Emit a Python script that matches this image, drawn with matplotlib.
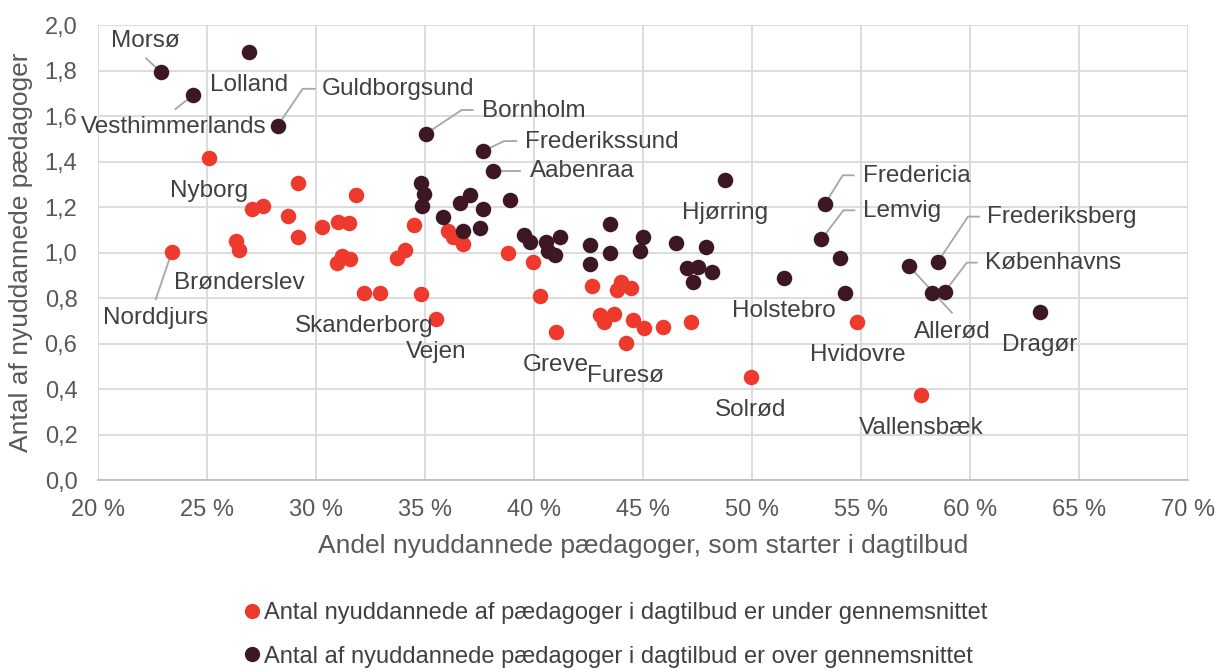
import numpy as np
import matplotlib.pyplot as plt
from matplotlib.lines import Line2D
from matplotlib.ticker import FuncFormatter, MultipleLocator

plt.rcParams['font.family'] = ['Liberation Sans', 'DejaVu Sans']

# Under gennemsnittet (rød)
under_x = [25.06, 29.15, 31.81, 27.04, 27.54, 28.72, 29.17, 30.28, 31.01, 31.51,
           34.50, 36.06, 36.28, 36.72, 23.37, 26.30, 26.47, 30.94, 31.19, 31.55,
           32.20, 32.92, 33.69, 34.07, 34.80, 35.49, 38.81, 39.95, 40.26, 40.98,
           42.66, 43.98, 44.44, 43.81, 43.01, 43.20, 43.67, 44.54, 45.05, 44.19,
           45.92, 47.19, 49.94, 54.83, 57.74]
under_y = [1.414, 1.307, 1.253, 1.191, 1.206, 1.162, 1.069, 1.113, 1.135, 1.128,
           1.121, 1.096, 1.069, 1.037, 1.001, 1.051, 1.011, 0.952, 0.986, 0.971,
           0.823, 0.823, 0.974, 1.011, 0.816, 0.708, 0.996, 0.960, 0.809, 0.652,
           0.853, 0.872, 0.845, 0.835, 0.725, 0.696, 0.728, 0.703, 0.667, 0.601,
           0.674, 0.696, 0.454, 0.696, 0.372]

# Over gennemsnittet (mørk)
over_x = [26.91, 22.88, 24.36, 28.23, 35.02, 37.66, 38.12, 34.80, 34.96, 34.83,
          35.83, 36.59, 37.05, 37.63, 36.74, 37.51, 38.89, 39.54, 39.80, 40.52,
          40.64, 40.95, 41.18, 42.56, 42.56, 43.47, 43.47, 45.00, 44.85, 46.50,
          47.88, 47.02, 47.50, 48.14, 47.29, 48.75, 51.47, 53.33, 53.18, 54.02,
          54.25, 57.19, 58.53, 58.23, 58.84, 63.20]
over_y = [1.883, 1.792, 1.692, 1.557, 1.521, 1.446, 1.358, 1.307, 1.256, 1.204,
          1.157, 1.219, 1.253, 1.191, 1.096, 1.106, 1.231, 1.077, 1.048, 1.048,
          1.008, 0.989, 1.067, 1.033, 0.948, 1.124, 1.000, 1.069, 1.007, 1.040,
          1.026, 0.933, 0.938, 0.916, 0.872, 1.319, 0.887, 1.212, 1.058, 0.977,
          0.823, 0.942, 0.960, 0.820, 0.828, 0.740]

# labels: (navn, serie, index)
labels = [
    ('Nyborg', 0, 0), ('Norddjurs', 0, 14), ('Brønderslev', 0, 16),
    ('Skanderborg', 0, 20), ('Vejen', 0, 25), ('Greve', 0, 29),
    ('Furesø', 0, 39), ('Solrød', 0, 42), ('Hvidovre', 0, 43),
    ('Vallensbæk', 0, 44),
    ('Lolland', 1, 0), ('Morsø', 1, 1), ('Vesthimmerlands', 1, 2),
    ('Guldborgsund', 1, 3), ('Bornholm', 1, 4), ('Frederikssund', 1, 5),
    ('Aabenraa', 1, 6), ('Hjørring', 1, 35), ('Holstebro', 1, 36),
    ('Fredericia', 1, 37), ('Lemvig', 1, 38), ('Allerød', 1, 41),
    ('Frederiksberg', 1, 42), ('Københavns', 1, 44), ('Dragør', 1, 45),
]

# label placement in pixels relative to point: (dx, dy, ha, leader)
place = {
    'Morsø': (-16, 31, 'center', [(-15, 14)]),
    'Vesthimmerlands': (-20, -32, 'center', [(-18, -14)]),
    'Guldborgsund': (44, 37, 'left', [(25, 37), (37, 37)]),
    'Bornholm': (56, 23, 'left', [(36, 24), (47, 24)]),
    'Frederikssund': (42, 9, 'left', [(21, 10), (33, 10)]),
    'Aabenraa': (37, 0, 'left', [(27, 0)]),
    'Fredericia': (38, 28, 'left', [(18, 29), (29, 29)]),
    'Lemvig': (42, 28, 'left', [(22, 29), (33, 29)]),
    'Frederiksberg': (49, 45, 'left', [(30, 45), (41, 45)]),
    'Københavns': (40, 29, 'left', [(22, 29), (32, 29)]),
    'Allerød': (43, -66, 'center', [(43, -47)]),
    'Norddjurs': (-16, -66, 'center', [(-16, -47)]),
}

red = '#ee3a2c'
dark = '#3d1824'
txt = '#404040'

fig = plt.figure(figsize=(12.15, 6.69), dpi=100)
ax = fig.add_axes([0.0809, 0.2825, 0.8969, 0.6801])

ax.scatter(under_x, under_y, s=125, color=red, linewidths=0, zorder=3)
ax.scatter(over_x, over_y, s=125, color=dark, linewidths=0, zorder=3)

ax.set_xlim(20, 70)
ax.set_ylim(0, 2)
ax.xaxis.set_major_locator(MultipleLocator(5))
ax.yaxis.set_major_locator(MultipleLocator(0.2))
ax.xaxis.set_major_formatter(FuncFormatter(lambda v, p: f'{v:.0f} %'))
ax.yaxis.set_major_formatter(FuncFormatter(lambda v, p: f'{v:.1f}'.replace('.', ',')))
ax.grid(True, color='#d9d9d9', linewidth=1.3, zorder=0)
ax.set_axisbelow(True)
for s in ['top', 'right', 'left']:
    ax.spines[s].set_visible(False)
ax.spines['bottom'].set_color('#bfbfbf')
ax.spines['bottom'].set_linewidth(1.3)
ax.tick_params(length=0, labelsize=17, labelcolor='#595959')
ax.tick_params(axis='x', pad=14)
ax.tick_params(axis='y', pad=15)

ax.set_xlabel('Andel nyuddannede pædagoger, som starter i dagtilbud',
              fontsize=19, color='#595959', labelpad=9)
ax.set_ylabel('Antal af nyuddannede pædagoger', fontsize=19, color='#595959',
              labelpad=8)

xs = [under_x, over_x]
ys = [under_y, over_y]
for name, ser, i in labels:
    px, py = ax.transData.transform((xs[ser][i], ys[ser][i]))
    dx, dy, ha, leader = place.get(name, (0, -33, 'center', None))
    tx, ty = ax.transData.inverted().transform((px + dx, py + dy))
    ax.text(tx, ty, name, fontsize=17.5, color=txt, ha=ha, va='center', zorder=4)
    if leader:
        pts = [(px, py)] + [(px + a, py + b) for a, b in leader]
        d = ax.transData.inverted().transform(pts)
        ax.plot(d[:, 0], d[:, 1], color='#a6a6a6', linewidth=1.3, zorder=2)

handles = [
    Line2D([], [], marker='o', linestyle='', color=red, markersize=10),
    Line2D([], [], marker='o', linestyle='', color=dark, markersize=10),
]
fig.legend(handles, ['Antal nyuddannede af pædagoger i dagtilbud er under gennemsnittet',
                     'Antal af nyuddannede pædagoger i dagtilbud er over gennemsnittet'],
           loc='center', bbox_to_anchor=(0.505, 1 - 635 / 669), frameon=False,
           fontsize=17, labelcolor=txt, handletextpad=0.0, labelspacing=0.9,
           handlelength=1.0)

fig.savefig('out.png', dpi=100)
